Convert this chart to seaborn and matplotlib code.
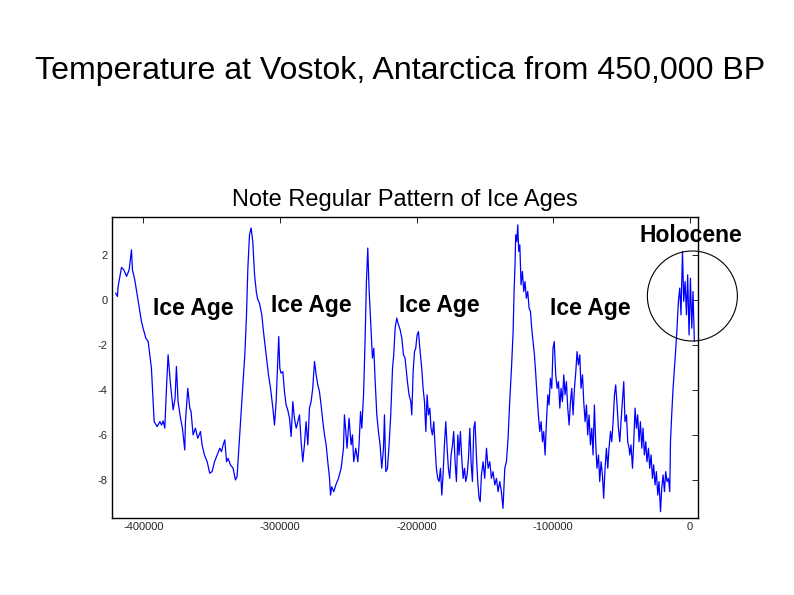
import matplotlib
matplotlib.use('Agg')
import matplotlib.pyplot as plt
from matplotlib.patches import Ellipse
import pandas as pd
import seaborn as sns

# years before present (thousands)
years_k = [
    -420.3, -419.0, -418.5, -416.0, -414.3, -412.3, -410.4, -408.7, -408.0, -406.3,
    -403.8, -401.4, -400.2, -398.2, -396.5, -395.3, -394.1, -392.9, -392.1, -389.9,
    -387.9, -386.7, -385.5, -384.3, -383.1, -381.9, -380.1, -378.2, -376.8, -375.8,
    -374.6, -372.8, -371.4, -369.7, -369.2, -367.5, -366.0, -365.1, -363.6, -361.9,
    -360.2, -358.2, -357.0, -355.3, -353.3, -351.4, -349.7, -347.9, -346.0, -344.0,
    -342.8, -341.6, -340.4, -339.1, -338.0, -336.2, -334.3, -332.6, -331.4, -330.1,
    -328.4, -327.0, -325.7, -324.5, -323.5, -322.3, -321.1, -319.9, -318.6, -317.2,
    -316.2, -315.0, -313.3, -311.8, -310.1, -308.4, -306.9, -305.2, -304.0, -302.8,
    -301.6, -300.9, -300.1, -299.2, -297.9, -296.7, -295.5, -294.3, -293.0, -291.8,
    -290.6, -289.4, -288.1, -286.9, -285.7, -284.5, -283.3, -282.1, -280.9, -279.6,
    -278.4, -277.2, -276.0, -274.7, -273.5, -272.3, -271.1, -269.9, -268.6, -267.4,
    -266.2, -265.0, -263.7, -263.0, -262.1, -260.6, -259.1, -257.2, -255.2, -253.5,
    -252.8, -251.8, -250.9, -249.4, -247.9, -246.9, -246.0, -244.5, -243.0, -242.1,
    -241.0, -240.1, -238.8, -237.7, -236.7, -235.7, -234.8, -233.5, -232.3, -231.3,
    -230.4, -229.1, -227.9, -226.7, -225.5, -224.2, -223.5, -222.5, -221.3, -220.1,
    -218.9, -217.6, -216.7, -215.7, -214.5, -213.2, -212.0, -210.8, -209.6, -208.4,
    -206.7, -205.5, -204.2, -203.5, -202.5, -201.5, -200.6, -199.6, -198.6, -197.6,
    -196.2, -195.2, -194.2, -193.2, -192.3, -191.3, -190.3, -189.4, -188.4, -187.4,
    -186.5, -185.5, -184.5, -183.5, -182.5, -181.5, -180.6, -179.6, -178.6, -177.6,
    -176.7, -175.7, -174.7, -173.7, -172.8, -171.8, -170.8, -169.8, -168.9, -167.9,
    -166.9, -165.9, -164.9, -164.0, -163.0, -162.0, -161.0, -160.1, -159.1, -158.1,
    -157.2, -156.2, -155.2, -154.2, -153.4, -152.5, -151.3, -150.1, -148.8, -147.6,
    -146.4, -145.2, -144.0, -142.7, -141.5, -140.3, -139.1, -137.9, -136.7, -135.4,
    -134.2, -133.0, -131.8, -130.5, -129.3, -128.6, -127.9, -127.4, -126.6, -125.9,
    -125.2, -124.4, -123.5, -122.5, -121.5, -120.6, -119.6, -118.6, -117.6, -116.6,
    -115.7, -114.7, -113.7, -112.7, -111.8, -110.8, -109.8, -108.8, -107.8, -106.9,
    -105.9, -104.9, -103.9, -103.0, -102.0, -101.0, -100.1, -99.2, -98.1, -97.1,
    -96.1, -95.1, -94.2, -93.2, -92.2, -91.3, -90.3, -89.3, -88.3, -87.3,
    -86.4, -85.4, -84.4, -83.4, -82.5, -81.5, -80.5, -79.6, -78.5, -77.6,
    -76.6, -75.6, -74.7, -73.7, -72.7, -71.7, -70.8, -69.8, -68.8, -67.9,
    -66.8, -65.9, -64.9, -63.9, -63.0, -62.0, -61.0, -60.0, -59.1, -58.0,
    -57.1, -56.1, -55.1, -54.2, -53.2, -52.2, -51.2, -50.3, -49.3, -48.3,
    -47.4, -46.3, -45.4, -44.4, -43.9, -43.0, -41.9, -41.0, -40.0, -39.0,
    -38.1, -37.1, -36.1, -35.1, -34.2, -33.2, -32.2, -31.3, -30.2, -29.3,
    -28.3, -27.3, -26.4, -25.4, -24.4, -23.4, -22.5, -21.4, -20.5, -19.5,
    -18.5, -17.6, -16.6, -15.6, -14.6, -14.1, -13.2, -12.2, -11.2, -10.2,
    -9.3, -8.3, -7.3, -6.4, -5.3, -4.4, -3.4, -2.4, -1.5, -0.5,
    0.5, 1.5, 2.4, 3.4,
]

# temperature anomaly (deg C)
temps = [
    0.30, 0.15, 0.59, 1.44, 1.33, 1.04, 1.33, 2.22, 1.33, 0.89,
    -0.07, -0.96, -1.26, -1.70, -1.85, -2.44, -3.04, -4.52, -5.41, -5.63,
    -5.41, -5.56, -5.38, -5.70, -3.93, -2.44, -3.78, -4.89, -4.37, -2.96,
    -4.52, -5.26, -5.70, -6.67, -5.41, -3.93, -4.81, -4.96, -6.00, -5.70,
    -6.15, -5.85, -6.44, -6.89, -7.19, -7.70, -7.63, -7.19, -6.89, -6.59,
    -6.74, -6.44, -6.22, -7.19, -7.04, -7.33, -7.48, -8.00, -7.85, -6.59,
    -4.96, -3.63, -2.44, -0.67, 1.41, 2.89, 3.19, 2.59, 1.11, 0.30,
    0.00, -0.15, -0.67, -1.56, -2.44, -3.33, -3.93, -4.81, -5.56, -4.52,
    -2.74, -1.63, -3.04, -3.26, -3.19, -4.07, -4.67, -4.89, -5.26, -6.07,
    -4.52, -5.26, -5.70, -5.41, -5.11, -6.30, -7.19, -6.44, -5.41, -6.44,
    -4.81, -4.52, -3.93, -2.74, -3.33, -3.78, -4.07, -4.67, -5.41, -6.00,
    -6.44, -7.19, -7.93, -8.67, -8.30, -8.52, -8.22, -7.93, -7.48, -6.59,
    -5.11, -5.85, -6.59, -5.26, -6.44, -6.00, -7.19, -6.59, -7.19, -6.44,
    -4.96, -5.70, -4.22, -1.85, 0.81, 2.30, 0.52, -1.11, -2.59, -2.15,
    -3.48, -5.11, -5.85, -6.44, -7.48, -6.59, -5.11, -7.63, -7.48, -6.44,
    -5.11, -3.04, -2.44, -1.26, -0.81, -1.11, -1.33, -1.70, -2.44, -2.59,
    -3.63, -4.22, -4.52, -5.11, -3.19, -2.30, -2.15, -1.56, -1.41, -2.15,
    -3.04, -3.93, -4.52, -5.85, -4.22, -5.11, -4.81, -5.70, -6.00, -5.41,
    -6.44, -7.48, -7.93, -8.07, -7.48, -8.67, -7.78, -6.44, -5.41, -6.59,
    -7.48, -7.93, -6.89, -6.44, -5.85, -7.19, -8.07, -6.00, -6.89, -5.85,
    -7.04, -7.93, -7.48, -8.07, -7.78, -7.04, -5.70, -7.19, -8.07, -5.70,
    -5.41, -6.89, -8.07, -8.81, -8.96, -7.78, -7.19, -7.93, -6.59, -7.48,
    -7.19, -7.93, -7.63, -8.22, -7.93, -8.52, -8.07, -8.52, -9.26, -7.48,
    -7.19, -6.15, -4.52, -3.04, -1.41, 0.37, 1.56, 2.89, 2.59, 3.33,
    2.15, 2.44, 0.67, 1.26, 0.37, 0.81, 0.07, 0.37, -0.37, -0.52,
    -1.26, -1.85, -2.44, -3.33, -4.22, -5.11, -5.85, -5.41, -6.30, -5.85,
    -6.89, -5.41, -4.22, -4.67, -3.48, -3.93, -2.15, -1.85, -3.33, -3.93,
    -3.63, -4.81, -3.93, -4.52, -3.33, -4.22, -3.63, -4.81, -5.56, -4.52,
    -3.93, -5.11, -3.93, -3.19, -2.30, -2.89, -2.44, -3.93, -3.33, -4.52,
    -5.41, -4.67, -6.00, -5.11, -6.44, -5.70, -6.89, -4.67, -6.44, -7.48,
    -6.89, -8.07, -7.19, -7.78, -8.81, -7.48, -6.59, -7.48, -6.59, -5.85,
    -6.30, -5.41, -4.22, -3.78, -4.67, -5.70, -6.30, -5.41, -4.52, -3.63,
    -5.41, -5.11, -6.30, -6.59, -6.89, -6.44, -7.48, -6.30, -4.81, -5.70,
    -5.11, -6.30, -5.41, -6.59, -5.70, -6.89, -6.30, -7.19, -6.59, -7.48,
    -6.89, -7.93, -7.33, -8.22, -7.63, -8.67, -8.07, -9.41, -8.37, -7.78,
    -8.52, -7.63, -8.07, -7.93, -8.52, -6.30, -5.11, -3.93, -3.04, -2.15,
    -1.26, -0.07, 0.52, -0.67, 2.15, -0.07, 0.81, -0.67, 1.11, -1.56,
    0.96, -1.26, 0.37, -1.85,
]

ice_age_labels = ['Ice Age', 'Ice Age', 'Ice Age', 'Ice Age']

df = pd.DataFrame({'year': [y * 1000 for y in years_k], 'temp': temps})

sns.set_style('white')
plt.rcParams['font.family'] = ['Liberation Sans', 'DejaVu Sans']
plt.rcParams['axes.unicode_minus'] = False
plt.rcParams['xtick.direction'] = 'in'
plt.rcParams['ytick.direction'] = 'in'

fig = plt.figure(figsize=(7.94, 5.95), dpi=100)
ax = fig.add_axes([0.141, 0.129, 0.738, 0.506])

sns.lineplot(data=df, x='year', y='temp', ax=ax, color='#0000ff',
             linewidth=0.9, sort=False, estimator=None)

ax.set_xlim(-423000, 6000)
ax.set_ylim(-9.7, 3.67)
ax.set_xticks([-400000, -300000, -200000, -100000, 0])
ax.set_yticks([-8, -6, -4, -2, 0, 2])
ax.set_xlabel('')
ax.set_ylabel('')
ax.tick_params(axis='both', which='both', top=True, right=True, length=4,
               width=0.6, color='black', labelsize=8, pad=3)
for sp in ax.spines.values():
    sp.set_color('black')
    sp.set_linewidth(1.0)

fig.text(0.504, 0.880, 'Temperature at Vostok, Antarctica from 450,000 BP',
         ha='center', va='center', fontsize=23.1, color='black')
fig.text(0.510, 0.664, 'Note Regular Pattern of Ice Ages',
         ha='center', va='center', fontsize=17, color='black')
fig.text(0.870, 0.605, 'Holocene', ha='center', va='center',
         fontsize=16.5, fontweight='bold', color='black')

label_pos = [(0.243, 0.482), (0.392, 0.486), (0.553, 0.486), (0.743, 0.482)]
for lab, (px, py) in zip(ice_age_labels, label_pos):
    fig.text(px, py, lab, ha='center', va='center', fontsize=16.5,
             fontweight='bold', color='black')

circ = Ellipse((0.872, 1 - 296 / 595), width=90 / 794, height=90 / 595,
               transform=fig.transFigure, fill=False, edgecolor='black',
               linewidth=0.8)
fig.add_artist(circ)

fig.savefig('out.png', dpi=100)
